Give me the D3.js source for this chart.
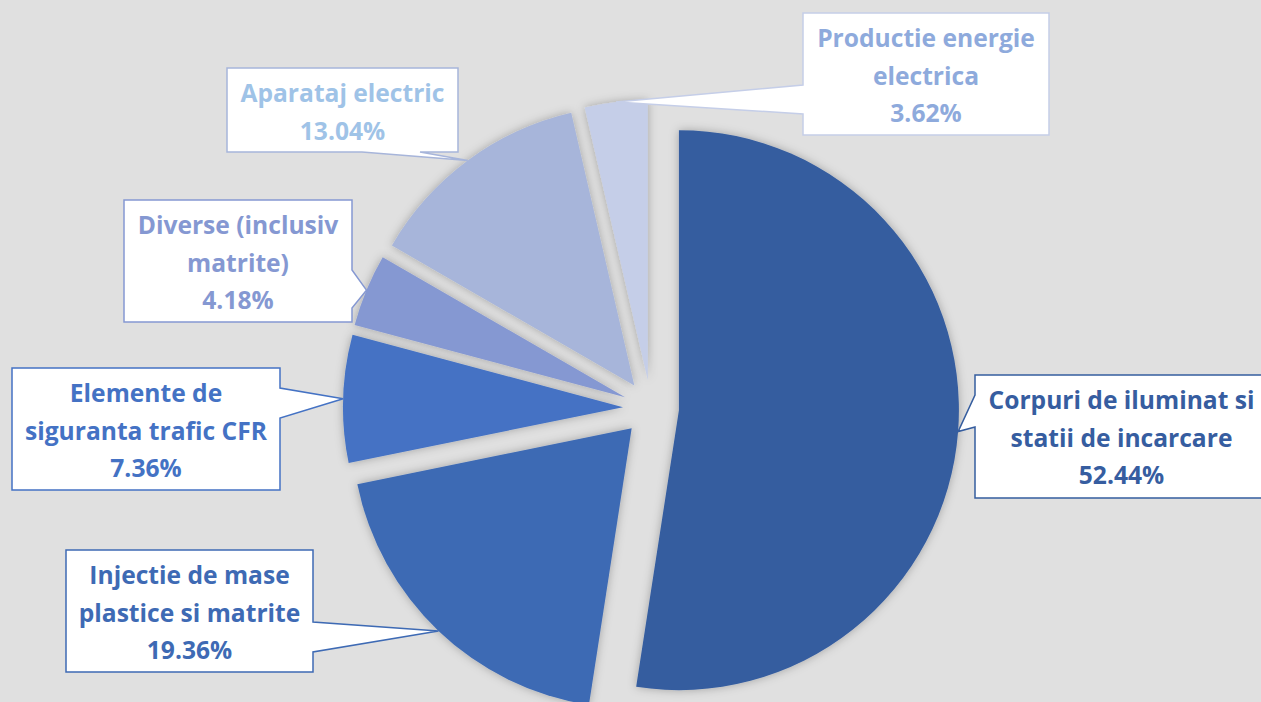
<!DOCTYPE html>
<html>
<head>
<meta charset="utf-8">
<script src="https://cdn.jsdelivr.net/npm/d3@7"></script>
<style>
  html, body { margin: 0; padding: 0; background: #e0e0e0; overflow: hidden; }
  svg { display: block; }
</style>
</head>
<body>
<svg id="chart" width="1261" height="702"></svg>
<script>
// ---- data ----
const categories = [
  "Corpuri de iluminat si statii de incarcare",
  "Injectie de mase plastice si matrite",
  "Elemente de siguranta trafic CFR",
  "Diverse (inclusiv matrite)",
  "Aparataj electric",
  "Productie energie electrica"
];
const values = [52.44, 19.36, 7.36, 4.18, 13.04, 3.62];
const labelLines = [
  ["Corpuri de iluminat si", "statii de incarcare"],
  ["Injectie de mase", "plastice si matrite"],
  ["Elemente de", "siguranta trafic CFR"],
  ["Diverse (inclusiv", "matrite)"],
  ["Aparataj electric"],
  ["Productie energie", "electrica"]
];
const percentLabels = ["52.44%", "19.36%", "7.36%", "4.18%", "13.04%", "3.62%"];

// ---- styles / layout ----
const sliceColors = ["#355d9f", "#3e6ab4", "#4472c4", "#8598d2", "#a7b5da", "#c5cee8"];
const textColors  = ["#365da0", "#3e6ab4", "#4472c4", "#8598d2", "#9fc3e7", "#8eaadc"];
const borderColors = ["#355d9f", "#3e6ab4", "#4472c4", "#8598d2", "#a7b5da", "#c5cee8"];
const center = [651, 408];
const radius = 280;
const explode = 28;
// label boxes: [x0, y0, x1, y1], pointer side and base range
const boxes = [
  { box: [975, 375, 1268, 498], side: "left",   a: 395, b: 427 },
  { box: [66, 550, 313, 672],   side: "right",  a: 622, b: 652 },
  { box: [12, 368, 280, 490],   side: "right",  a: 388, b: 418 },
  { box: [124, 200, 352, 322],  side: "right",  a: 270, b: 308 },
  { box: [227, 68, 458, 152],   side: "bottom", a: 362, b: 420 },
  { box: [803, 13, 1049, 135],  side: "left",   a: 85,  b: 114 }
];
const lineGap = 37.5;
const firstBaseline = 34;

const svg = d3.select("#chart");
svg.append("rect").attr("width", 1261).attr("height", 702).attr("fill", "#e0e0e0");

const defs = svg.append("defs");
const f = defs.append("filter").attr("id", "shadow")
  .attr("x", "-20%").attr("y", "-20%").attr("width", "140%").attr("height", "140%");
f.append("feDropShadow").attr("dx", 0).attr("dy", 0).attr("stdDeviation", 5)
  .attr("flood-color", "#000").attr("flood-opacity", 0.28);

const data = categories.map((c, i) => ({ name: c, value: values[i], i }));
const pie = d3.pie().value(d => d.value).sort(null).startAngle(0).endAngle(2 * Math.PI);
const arcs = pie(data);
const arc = d3.arc().innerRadius(0).outerRadius(radius);

function offsetOf(d) {
  const m = (d.startAngle + d.endAngle) / 2;
  return [explode * Math.sin(m), -explode * Math.cos(m)];
}

const g = svg.append("g").attr("transform", `translate(${center[0]},${center[1]})`);
g.selectAll("path.slice").data(arcs).enter().append("path")
  .attr("class", "slice")
  .attr("d", arc)
  .attr("fill", d => sliceColors[d.data.i])
  .attr("filter", "url(#shadow)")
  .attr("transform", d => { const o = offsetOf(d); return `translate(${o[0]},${o[1]})`; });

// callouts
function calloutPath(bx, tip) {
  const [x0, y0, x1, y1] = bx.box;
  const p = [];
  p.push([x0, y0], [x1, y0]);
  if (bx.side === "right") p.push([x1, bx.a], tip, [x1, bx.b]);
  p.push([x1, y1]);
  if (bx.side === "bottom") p.push([bx.b, y1], tip, [bx.a, y1]);
  p.push([x0, y1]);
  if (bx.side === "left") p.push([x0, bx.b], tip, [x0, bx.a]);
  return "M" + p.map(q => q.join(",")).join("L") + "Z";
}

const labels = svg.append("g");
arcs.forEach(d => {
  const i = d.data.i;
  const m = (d.startAngle + d.endAngle) / 2;
  const o = offsetOf(d);
  const tip = [center[0] + o[0] + radius * Math.sin(m), center[1] + o[1] - radius * Math.cos(m)];
  const bx = boxes[i];
  labels.append("path")
    .attr("d", calloutPath(bx, tip))
    .attr("fill", "#ffffff")
    .attr("stroke", borderColors[i])
    .attr("stroke-width", 1.5)
    .attr("stroke-linejoin", "miter");
  const cx = (bx.box[0] + bx.box[2]) / 2;
  const lines = labelLines[i].concat([percentLabels[i]]);
  const t = labels.append("text")
    .attr("text-anchor", "middle")
    .attr("font-family", "'Open Sans', Lato, sans-serif")
    .attr("font-weight", "bold")
    .attr("font-size", 24.6)
    .style("font-variant-ligatures", "none")
    .attr("fill", textColors[i]);
  lines.forEach((ln, k) => {
    t.append("tspan").attr("x", cx).attr("y", bx.box[1] + firstBaseline + k * lineGap).text(ln);
  });
});
</script>
</body>
</html>
